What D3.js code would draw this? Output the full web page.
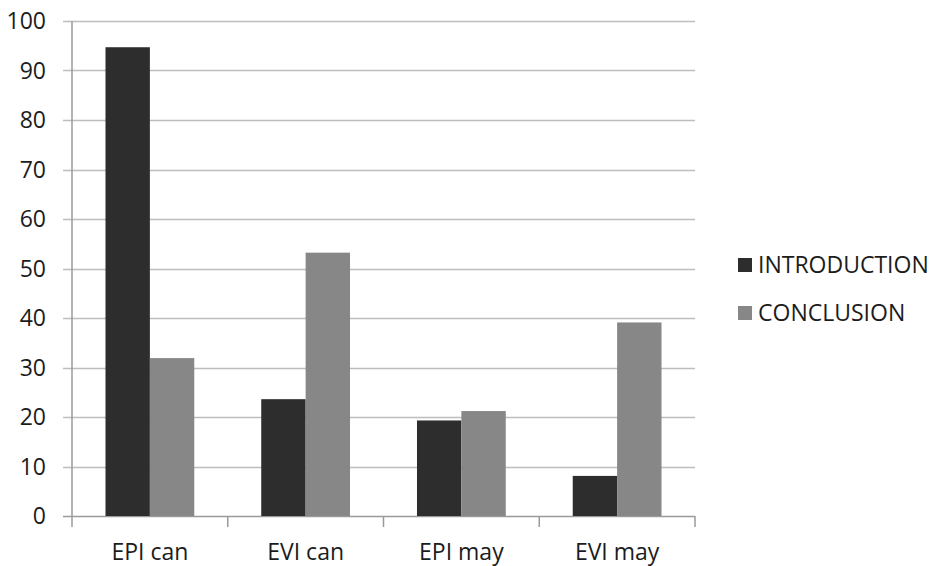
<!DOCTYPE html>
<html><head><meta charset="utf-8">
<script src="https://cdn.jsdelivr.net/npm/d3@7"></script>
<style>body{margin:0;background:#fff}svg{display:block}text{font-family:"Open Sans",sans-serif;fill:#1c1c1c}</style>
</head><body>
<script>
const categories = ["EPI can","EVI can","EPI may","EVI may"];
const seriesNames = ["INTRODUCTION","CONCLUSION"];
const introduction = [94.7, 23.6, 19.3, 8.1];
const conclusion = [31.9, 53.2, 21.2, 39.1];
const yTicks = [0,10,20,30,40,50,60,70,80,90,100];
const colors = ["#2d2d2d","#878787"];

(function(){
const W=935,H=566;
const svg=d3.select("body").append("svg").attr("width",W).attr("height",H);
const pL=72,pR=695,pT=21,pB=516;
const y=d3.scaleLinear().domain([0,100]).range([pB,pT]);
const x0=d3.scaleBand().domain(categories).range([pL,pR]).paddingInner(0.43).paddingOuter(0.215);
const x1=d3.scaleBand().domain(seriesNames).range([0,x0.bandwidth()]);
const data=[introduction,conclusion];

svg.append("g").selectAll("line").data(yTicks).join("line")
 .attr("x1",pL-9).attr("x2",pR).attr("y1",d=>Math.round(y(d))+0.5).attr("y2",d=>Math.round(y(d))+0.5)
 .attr("stroke",d=>d===0?"#9a9a9a":"#bdbdbd").attr("stroke-width",1.5);

categories.forEach((c,i)=>{
  seriesNames.forEach((s,j)=>{
    svg.append("rect").attr("x",x0(c)+x1(s)).attr("width",x1.bandwidth())
     .attr("y",y(data[j][i])).attr("height",pB-y(data[j][i])).attr("fill",colors[j]);
  });
});

svg.append("line").attr("x1",pL).attr("x2",pL).attr("y1",pT).attr("y2",pB+11).attr("stroke","#9a9a9a").attr("stroke-width",1.5);
const step=x0.step();
const bounds=d3.range(categories.length+1).map(i=>pL+i*step);
svg.append("g").selectAll("line").data(bounds.slice(1)).join("line")
 .attr("x1",d=>d).attr("x2",d=>d).attr("y1",pB).attr("y2",pB+11).attr("stroke","#9a9a9a").attr("stroke-width",1.5);

svg.append("g").selectAll("text").data(yTicks).join("text")
 .attr("x",46).attr("y",d=>y(d)).attr("dy","0.36em").attr("text-anchor","end")
 .style("font-size","23px").text(d=>d);
svg.append("g").selectAll("text").data(categories).join("text")
 .attr("x",d=>x0(d)+x0.bandwidth()/2).attr("y",552).attr("dy","0.36em").attr("text-anchor","middle")
 .style("font-size","23px").text(d=>d);

const lg=svg.append("g");
seriesNames.forEach((s,j)=>{
  const cy=265+j*48;
  lg.append("rect").attr("x",738).attr("y",cy-7).attr("width",14).attr("height",14).attr("fill",colors[j]);
  lg.append("text").attr("x",758).attr("y",cy).attr("dy","0.36em").style("font-size","23px").text(s);
});
})();
</script>
</body></html>
